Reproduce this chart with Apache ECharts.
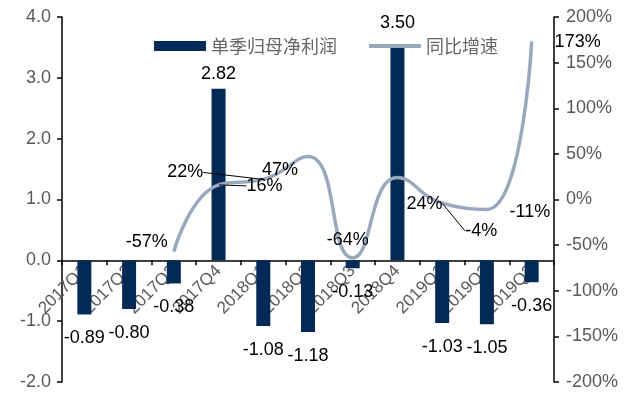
<!DOCTYPE html>
<html><head><meta charset="utf-8">
<script src="https://cdn.jsdelivr.net/npm/echarts@6/dist/echarts.min.js"></script>
<style>html,body{margin:0;padding:0;background:#fff}#c{width:637px;height:398px}</style>
</head><body><div id="c"></div>
<script>
const categories = ['2017Q1','2017Q2','2017Q3','2017Q4','2018Q1','2018Q2','2018Q3','2018Q4','2019Q1','2019Q2','2019Q3'];
const profit = [-0.89,-0.80,-0.38,2.82,-1.08,-1.18,-0.13,3.50,-1.03,-1.05,-0.36];
const growth = [null,null,-57,16,22,47,-64,24,-4,-11,173];
const leftTicks = [-2,-1,0,1,2,3,4];
const rightTicks = [-200,-150,-100,-50,0,50,100,150,200];

// label placement (styling only)
const lineLabelOffsets = [null,null,[-27,-9],[46,1],[-78,-7],[-28,13],[-5,-18],[27,26],[39,28],[43,2],[46,0]];
const lineLabelGuide = [false,false,false,true,true,false,false,false,true,false,false];

const chart = echarts.init(document.getElementById('c'), null, {renderer:'canvas'});
const FONT = 'Liberation Sans, Arial, sans-serif';
const barData = profit.map((v,i)=>({
  value:v,
  label:{position: v>=0?'top':'bottom', distance: v>=0 ? (i===7?15:6) : 15}
}));
const lineData = growth.map((v,i)=>{
  if(v===null) return null;
  const o = {value:v};
  if(lineLabelGuide[i]) o.labelLine = {show:true};
  return o;
});
chart.setOption({
  animation:false,
  textStyle:{fontFamily:FONT},
  grid:{left:62,right:83,top:17,bottom:16,containLabel:false,outerBoundsMode:'none'},
  legend:{
    left:149, top:32, itemWidth:52, itemHeight:10, itemGap:32,
    textStyle:{fontSize:18,color:'#666',fontFamily:'Noto Sans CJK SC'},
    data:[{name:'单季归母净利润',icon:'rect'},{name:'同比增速',icon:'path://M0,0L52,0L52,4L0,4Z'}]
  },
  xAxis:{
    type:'category', data:categories, position:'bottom', offset:-121.7,
    axisLine:{onZero:false,lineStyle:{color:'#000',width:1.5}},
    axisTick:{show:true,length:5,lineStyle:{color:'#000',width:1.5}},
    axisLabel:{rotate:45,fontSize:17,color:'#595959',margin:8,interval:0}
  },
  yAxis:[{
    type:'value',min:-2,max:4,interval:1,
    axisLine:{show:true,lineStyle:{color:'#000',width:1.5}},
    axisTick:{show:true,length:5,lineStyle:{color:'#000',width:1.5}},
    splitLine:{show:false},
    axisLabel:{fontSize:18,color:'#595959',margin:11,formatter:v=>v.toFixed(1)}
  },{
    type:'value',min:-200,max:200,interval:50,position:'right',
    axisLine:{show:true,lineStyle:{color:'#000',width:1.5}},
    axisTick:{show:true,length:5,lineStyle:{color:'#000',width:1.5}},
    splitLine:{show:false},
    axisLabel:{fontSize:18,color:'#595959',margin:12,formatter:'{value}%'}
  }],
  series:[{
    name:'单季归母净利润',type:'bar',barWidth:14,data:barData,
    itemStyle:{color:'#032A57'},
    label:{show:true,fontSize:18,color:'#000',formatter:p=>p.value.toFixed(2)}
  },{
    name:'同比增速',type:'line',yAxisIndex:1,smooth:0.5,symbol:'circle',symbolSize:1,showSymbol:true,data:lineData,
    lineStyle:{color:'#98A9BD',width:3.5},itemStyle:{color:'#98A9BD'},
    label:{show:true,position:'inside',fontSize:18,color:'#000',formatter:p=>p.value+'%'},
    labelLayout:function(p){const o=lineLabelOffsets[p.dataIndex]; return o?{dx:o[0],dy:o[1]}:{};},
    labelLine:{length2:0,lineStyle:{color:'#000',width:1}}
  }]
});
</script></body></html>
